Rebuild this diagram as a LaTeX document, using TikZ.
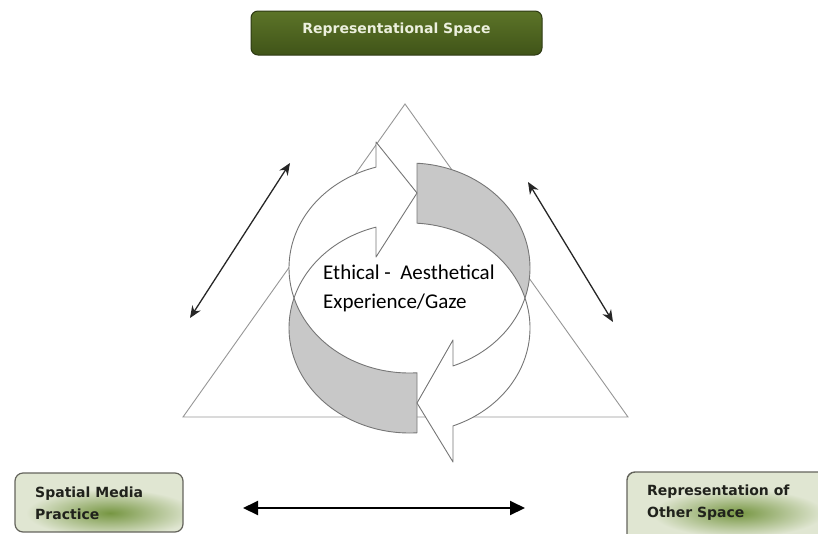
\documentclass[tikz,border=0pt]{standalone}
\usepackage{fontspec}
\newfontfamily\carl{Carlito}
\newfontfamily\dvs{DejaVu Sans}
\usetikzlibrary{arrows.meta}
\definecolor{ringline}{RGB}{118,118,118}
\definecolor{ringgray}{RGB}{200,200,200}
\definecolor{triline}{RGB}{150,150,150}
\definecolor{oliveT}{RGB}{92,116,40}
\definecolor{oliveB}{RGB}{64,84,24}
\definecolor{oliveD}{RGB}{46,58,20}
\definecolor{paleT}{RGB}{236,240,222}
\definecolor{boxfill}{RGB}{224,230,210}
\definecolor{glow}{RGB}{118,150,66}
\definecolor{boxedge}{RGB}{100,100,92}
\definecolor{boxtext}{RGB}{32,34,28}
\begin{document}
\begin{tikzpicture}[x=1pt,y=-1pt,
  ringpart/.style={draw=ringline,line width=0.9pt,line join=round},
  whitepart/.style={ringpart,fill=white},
  graypart/.style={ringpart,fill=ringgray},
  thinarrow/.style={black!85,line width=1.3pt,{Stealth[length=12pt,width=10pt]}-{Stealth[length=12pt,width=10pt]}},
  thickarrow/.style={black,line width=2pt,{Triangle[length=15pt,width=14pt]}-{Triangle[length=15pt,width=14pt]}},
  topbox/.style={draw=oliveD,line width=1pt,rounded corners=7pt,top color=oliveT,bottom color=oliveB,minimum width=291pt,minimum height=44pt,inner sep=0pt},
  sidebox/.style={draw=boxedge,line width=1.2pt,rounded corners=8pt,inner sep=0pt},
  boxlabel/.style={font=\dvs\bfseries\fontsize{14}{17}\selectfont,inner sep=0pt,anchor=base west,text=boxtext},
  centerlabel/.style={font=\carl\fontsize{21}{25}\selectfont,inner sep=0pt,anchor=base west}
]
\useasboundingbox (0,0) rectangle (818,533);
\clip (0,0) rectangle (818,533);

% triangle behind the ring
\draw[triline,line width=0.9pt,line join=miter] (405,104) -- (628,417) -- (183,417) -- cycle;

% ring pieces (A: centre (409.5,268); B: centre (409.5,328); radii 120.5 x 105)
\filldraw[graypart]
  plot[domain=-86.43:16.6,samples=50] ({409.5+120.5*cos(\x)},{268+105*sin(\x)})
  -- plot[domain=-16.6:-86.43,samples=50] ({409.5+120.5*cos(\x)},{328+105*sin(\x)})
  -- cycle;
\filldraw[graypart]
  plot[domain=86.43:163.4,samples=50] ({409.5+120.5*cos(\x)},{268+105*sin(\x)})
  -- plot[domain=196.6:86.43,samples=60] ({409.5+120.5*cos(\x)},{328+105*sin(\x)})
  -- cycle;
\filldraw[whitepart]
  plot[domain=163.4:253.86,samples=50] ({409.5+120.5*cos(\x)},{268+105*sin(\x)})
  -- (376,142) -- (417,193) -- (376,257)
  -- plot[domain=253.86:196.6,samples=50] ({409.5+120.5*cos(\x)},{328+105*sin(\x)})
  -- cycle;
\filldraw[whitepart]
  plot[domain=16.6:68.84,samples=50] ({409.5+120.5*cos(\x)},{268+105*sin(\x)})
  -- (453,340) -- (417,403) -- (453,462)
  -- plot[domain=68.84:-16.6,samples=50] ({409.5+120.5*cos(\x)},{328+105*sin(\x)})
  -- cycle;

% centre text
\node[centerlabel] (eth) at (323,279) {Ethical -\ \ Aesthetical};
\node[centerlabel] (exp) at (323,308) {Experience/Gaze};

% diagonal double arrows
\coordinate (l1) at (190,318);
\coordinate (l2) at (290,163);
\coordinate (r1) at (528,182);
\coordinate (r2) at (613,322);
\draw[thinarrow] (l1) -- (l2);
\draw[thinarrow] (r1) -- (r2);

% top box
\node[topbox] (rs) at (396.5,33) {};
\node[font=\dvs\bfseries\fontsize{14}{17}\selectfont,text=paleT,inner sep=0pt,anchor=base] (rsText) at (396.5,33) {Representational Space};

% bottom-left box
\begin{scope}
  \clip[rounded corners=8pt] (15,473) rectangle (183,532);
  \fill[boxfill] (15,473) rectangle (183,532);
  \shade[inner color=glow,outer color=boxfill] (110,513) ellipse [x radius=84pt,y radius=24pt];
\end{scope}
\node[sidebox,minimum width=168pt,minimum height=59pt] (smp) at (99,502.5) {};
\node[boxlabel] (smp1) at (35,497) {Spatial Media};
\node[boxlabel] (smp2) at (35,519) {Practice};

% bottom-right box (runs off the page)
\begin{scope}
  \clip[rounded corners=8pt] (627,472) rectangle (840,550);
  \fill[boxfill] (627,472) rectangle (840,550);
  \shade[inner color=glow,outer color=boxfill] (738,513) ellipse [x radius=86pt,y radius=24pt];
\end{scope}
\draw[boxedge,line width=1.4pt,rounded corners=8pt] (840,472) -- (627,472) -- (627,550);
\node[boxlabel] (ros1) at (647,495) {Representation of};
\node[boxlabel] (ros2) at (647,517) {Other Space};

% bottom double arrow
\coordinate (b1) at (243,508);
\coordinate (b2) at (525,508);
\draw[thickarrow] (b1) -- (b2);
\end{tikzpicture}
\end{document}
